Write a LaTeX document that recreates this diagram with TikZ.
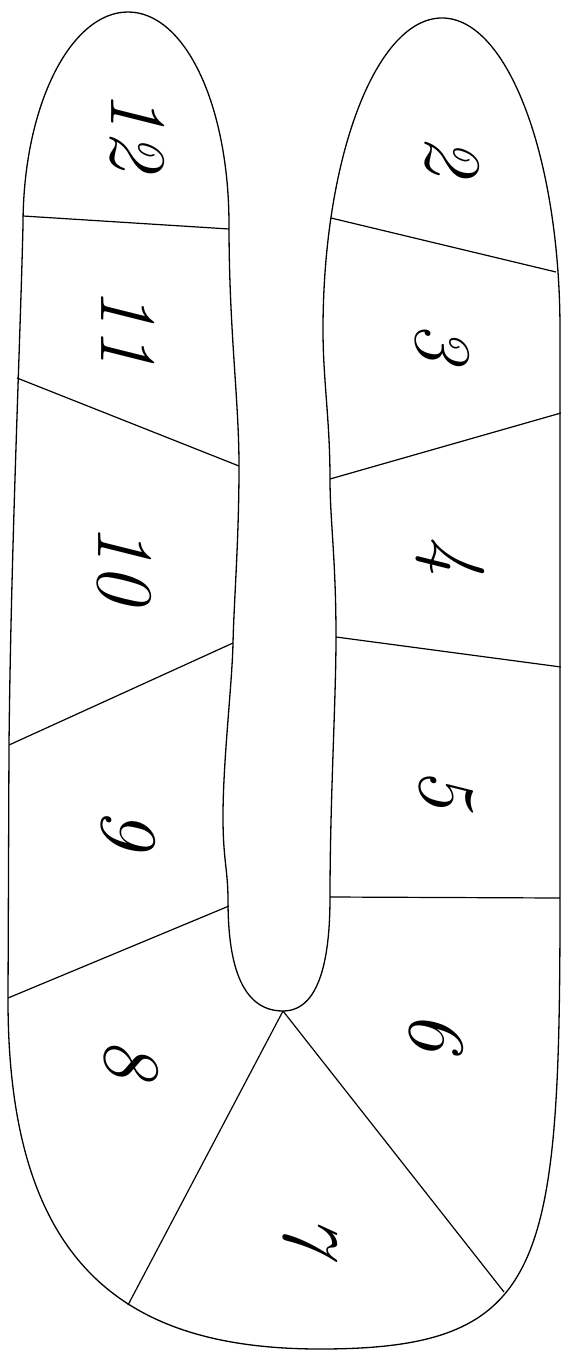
\documentclass[tikz,border=0pt]{standalone}
\begin{document}
\begin{tikzpicture}[x=1pt,y=-1pt,line width=1.3pt,
  lab/.style={rotate=-90,inner sep=0pt,font=\fontsize{80}{80}\selectfont\itshape},
  cut/.style={line width=1.2pt}]
\useasboundingbox (0,0) rectangle (561,1351);
% divider end points
\coordinate (a1) at (23,216);   \coordinate (a2) at (229,229);
\coordinate (b1) at (17,378);   \coordinate (b2) at (239,466);
\coordinate (c1) at (9,745);    \coordinate (c2) at (233,643);
\coordinate (d1) at (8,998);    \coordinate (d2) at (229,906);
\coordinate (e1) at (128,1305); \coordinate (tip) at (283,1011);
\coordinate (f2) at (504,1292);
\coordinate (g1) at (330,897);  \coordinate (g2) at (560,898);
\coordinate (h1) at (336,637);  \coordinate (h2) at (561,667);
\coordinate (i1) at (330,479);  \coordinate (i2) at (561,413);
\coordinate (j1) at (331,218);  \coordinate (j2) at (556,272);
% outline
\draw (23,225) .. controls (23,105) and (71,12) .. (128,12)
  .. controls (185,12) and (229,105) .. (229,225)
  .. controls (229,330) and (239,400) .. (239,466)
  .. controls (239,540) and (234,600) .. (233,643)
  .. controls (232,686) and (223,760) .. (223,817)
  .. controls (223,860) and (228,870) .. (228,900)
  .. controls (228,948) and (235,1011) .. (283,1011)
  .. controls (324,1011) and (330,945) .. (330,897)
  .. controls (330,800) and (336,700) .. (336,637)
  .. controls (336,560) and (330,520) .. (330,479)
  .. controls (330,420) and (323,380) .. (323,330)
  .. controls (323,158) and (376,18) .. (442,18)
  .. controls (508,18) and (560,158) .. (560,330)
  -- (560,900)
  .. controls (560,1270) and (545,1349) .. (320,1349)
  .. controls (130,1349) and (8,1270) .. (8,1000)
  -- (9,745)
  .. controls (11,550) and (20,350) .. (23,225) -- cycle;
% dividers
\draw[cut] (a1) -- (a2);
\draw[cut] (b1) -- (b2);
\draw[cut] (c1) -- (c2);
\draw[cut] (d1) -- (d2);
\draw[cut] (e1) -- (tip);
\draw[cut] (tip) -- (f2);
\draw[cut] (g1) -- (g2);
\draw[cut] (h1) -- (h2);
\draw[cut] (i1) -- (i2);
\draw[cut] (j1) -- (j2);
% labels
\node[lab] (n2)  at (452,156)  {2};
\node[lab] (n3)  at (442,342)  {3};
\node[lab] (n4)  at (450,556)  {4};
\node[lab] (n5)  at (446,788)  {5};
\node[lab] (n6)  at (436,1031) {6};
\node[lab] (n7)  at (310,1233) {7};
\node[lab] (n8)  at (131,1058) {8};
\node[lab] (n9)  at (128,828)  {9};
\node[lab] (n10) at (124,563)  {10};
\node[lab] (n11) at (128,327)  {11};
\node[lab] (n12) at (137,131)  {12};
\end{tikzpicture}
\end{document}
